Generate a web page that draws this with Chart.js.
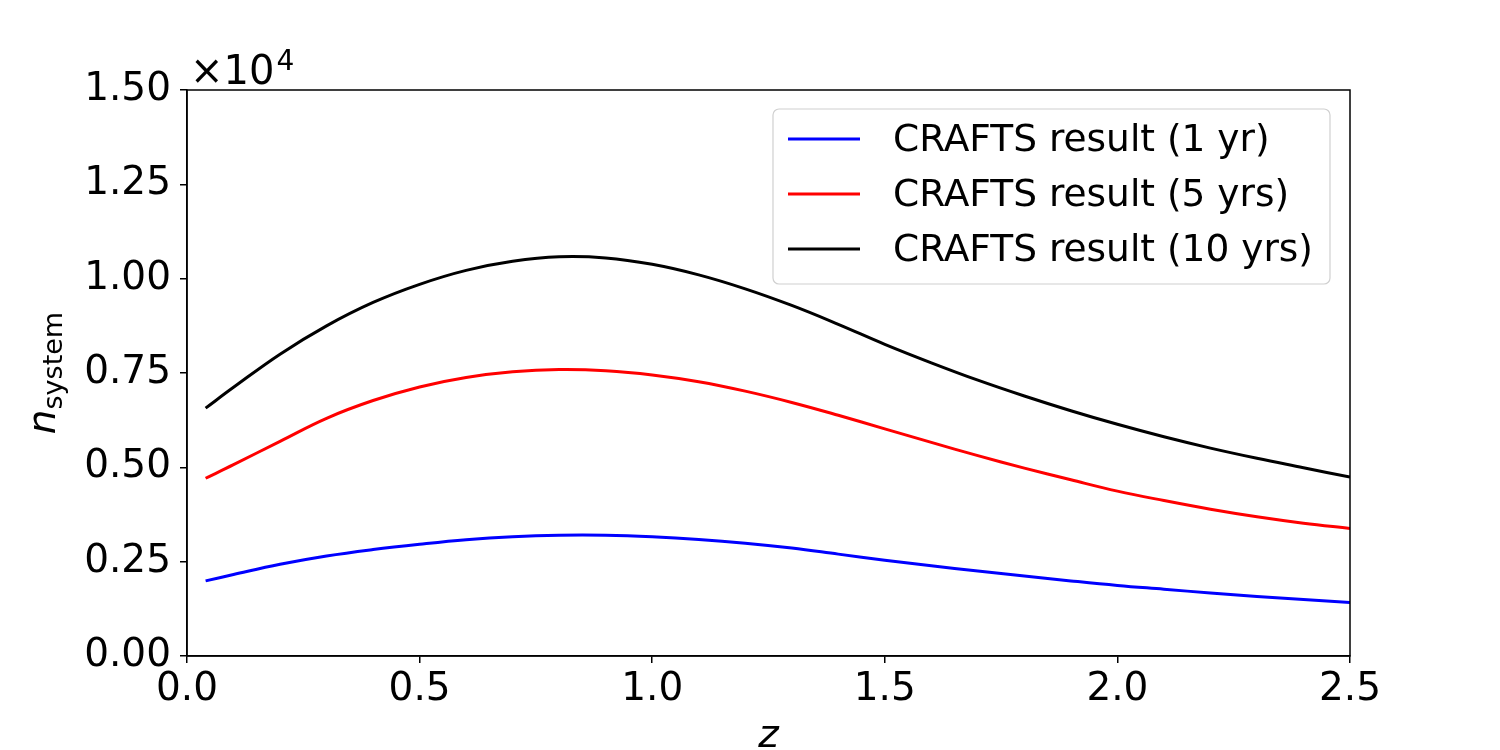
<!DOCTYPE html>
<html>
<head>
<meta charset="utf-8">
<script src="https://cdn.jsdelivr.net/npm/chart.js@4.4.1/dist/chart.umd.min.js"></script>
<style>
  html, body { margin: 0; padding: 0; background: #fff; }
  #wrap { width: 1500px; height: 750px; }
</style>
</head>
<body>
<div id="wrap"><canvas id="nChart" width="1500" height="750"></canvas></div>
<script>
// redshift samples
const zValues = [0.04, 0.1, 0.2, 0.3, 0.4, 0.5, 0.6, 0.7, 0.8, 0.9, 1.0, 1.1, 1.2,
                 1.3, 1.4, 1.5, 1.6, 1.7, 1.8, 1.9, 2.0, 2.1, 2.2, 2.3, 2.4, 2.5];

// n_system
const oneYear = [1990, 2160, 2430, 2650, 2820, 2960, 3080, 3160, 3200, 3200, 3160, 3090, 2990,
                 2860, 2700, 2540, 2390, 2250, 2120, 1990, 1870, 1770, 1670, 1580, 1500, 1420];
const fiveYears = [4710, 5070, 5690, 6300, 6770, 7130, 7380, 7530, 7590, 7560, 7450, 7270, 7020,
                   6720, 6380, 6020, 5660, 5310, 4980, 4670, 4370, 4120, 3890, 3690, 3520, 3380];
const tenYears = [6570, 7120, 8000, 8750, 9370, 9850, 10220, 10460, 10580, 10550, 10380, 10100, 9730,
                  9290, 8790, 8260, 7770, 7310, 6890, 6500, 6140, 5810, 5510, 5240, 4990, 4740];

const seriesLabels = ['CRAFTS result (1 yr)', 'CRAFTS result (5 yrs)', 'CRAFTS result (10 yrs)'];
const seriesColors = ['#0000ff', '#ff0000', '#000000'];

const xTicks = [0, 0.5, 1.0, 1.5, 2.0, 2.5];
const yTicks = [0, 2500, 5000, 7500, 10000, 12500, 15000];

const FONT = '"DejaVu Sans", sans-serif';

function pts(vals) {
    return zValues.map((z, i) => ({ x: z, y: vals[i] }));
}

// spines, axis titles, offset text and the legend box
const decorations = {
    id: 'decorations',
    afterDraw(chart) {
        const { ctx, chartArea: a } = chart;
        ctx.save();

        ctx.strokeStyle = '#000';
        ctx.lineWidth = 1.5;
        ctx.strokeRect(a.left, a.top, a.right - a.left, a.bottom - a.top);

        ctx.fillStyle = '#000';
        ctx.textBaseline = 'alphabetic';

        // x10^4
        ctx.textAlign = 'left';
        ctx.font = '40px ' + FONT;
        ctx.fillText('\u00d710', 190, 84);
        const w = ctx.measureText('\u00d710').width;
        ctx.font = '28px ' + FONT;
        ctx.fillText('4', 190 + w + 2, 70);

        // x title
        ctx.textAlign = 'center';
        ctx.font = 'italic 39px ' + FONT;
        ctx.fillText('z', (a.left + a.right) / 2, 747);

        // y title
        ctx.save();
        ctx.translate(55, (a.top + a.bottom) / 2);
        ctx.rotate(-Math.PI / 2);
        ctx.textAlign = 'left';
        ctx.font = 'italic 39px ' + FONT;
        const nW = ctx.measureText('n').width;
        ctx.font = '27px ' + FONT;
        const sW = ctx.measureText('system').width;
        const x0 = -(nW + sW) / 2;
        ctx.font = 'italic 39px ' + FONT;
        ctx.fillText('n', x0, 0);
        ctx.font = '27px ' + FONT;
        ctx.fillText('system', x0 + nW, 7);
        ctx.restore();

        // legend
        const bx = 773, by = 109, bw = 557, bh = 175, r = 6;
        ctx.beginPath();
        ctx.moveTo(bx + r, by);
        ctx.arcTo(bx + bw, by, bx + bw, by + bh, r);
        ctx.arcTo(bx + bw, by + bh, bx, by + bh, r);
        ctx.arcTo(bx, by + bh, bx, by, r);
        ctx.arcTo(bx, by, bx + bw, by, r);
        ctx.closePath();
        ctx.fillStyle = 'rgba(255,255,255,0.8)';
        ctx.fill();
        ctx.strokeStyle = '#d0d0d0';
        ctx.lineWidth = 1.2;
        ctx.stroke();

        ctx.font = '37.5px ' + FONT;
        ctx.textAlign = 'left';
        ctx.textBaseline = 'middle';
        chart.data.datasets.forEach((ds, i) => {
            const y = 139 + i * 55;
            ctx.strokeStyle = ds.borderColor;
            ctx.lineWidth = 3;
            ctx.beginPath();
            ctx.moveTo(788, y);
            ctx.lineTo(860, y);
            ctx.stroke();
            ctx.fillStyle = '#000';
            ctx.fillText(ds.label, 893, y + 2);
        });

        ctx.restore();
    }
};

new Chart(document.getElementById('nChart').getContext('2d'), {
    type: 'line',
    data: {
        datasets: [
            { label: seriesLabels[0], data: pts(oneYear), borderColor: seriesColors[0] },
            { label: seriesLabels[1], data: pts(fiveYears), borderColor: seriesColors[1] },
            { label: seriesLabels[2], data: pts(tenYears), borderColor: seriesColors[2] }
        ]
    },
    options: {
        responsive: false,
        animation: false,
        layout: { padding: { left: 0, right: 150, top: 90, bottom: 0 } },
        elements: {
            line: { borderWidth: 3, tension: 0.4, fill: false },
            point: { radius: 0 }
        },
        plugins: {
            legend: { display: false },
            tooltip: { enabled: false }
        },
        scales: {
            x: {
                type: 'linear',
                min: 0,
                max: 2.5,
                afterBuildTicks: s => { s.ticks = xTicks.map(v => ({ value: v })); },
                afterFit: s => { s.height = 94; },
                grid: { display: true, drawOnChartArea: false, drawTicks: true, tickLength: 7, color: '#000', lineWidth: 1.5 },
                border: { display: true, color: '#000', width: 1.5 },
                ticks: {
                    color: '#000',
                    font: { family: FONT, size: 39 },
                    padding: 3,
                    maxRotation: 0,
                    callback: v => v.toFixed(1)
                }
            },
            y: {
                min: 0,
                max: 15000,
                afterBuildTicks: s => { s.ticks = yTicks.map(v => ({ value: v })); },
                afterFit: s => { s.width = 187; },
                grid: { display: true, drawOnChartArea: false, drawTicks: true, tickLength: 7, color: '#000', lineWidth: 1.5 },
                border: { display: true, color: '#000', width: 1.5 },
                ticks: {
                    color: '#000',
                    font: { family: FONT, size: 39 },
                    padding: 9,
                    callback: v => (v / 1e4).toFixed(2)
                }
            }
        }
    },
    plugins: [decorations]
});
</script>
</body>
</html>
